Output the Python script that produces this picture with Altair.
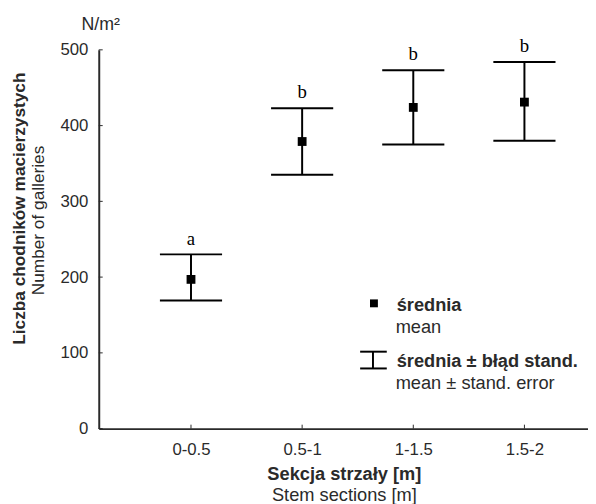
import json
import altair as alt
import pandas as pd

categories = ["0-0.5", "0.5-1", "1-1.5", "1.5-2"]
means = [197, 379, 424, 431]
upper = [230, 423, 473, 484]
lower = [169, 335, 375, 380]
letters = ["a", "b", "b", "b"]
y_ticks = [0, 100, 200, 300, 400, 500]

df = pd.DataFrame({
    "pos": list(range(1, len(categories) + 1)),
    "cat": categories,
    "mean": means,
    "hi": upper,
    "lo": lower,
    "letter": letters,
})
ticks_df = pd.DataFrame({"v": y_ticks})
one = pd.DataFrame({"k": [0]})

W, H = 496, 384
INK = "#2a2a2a"
FONT = "Liberation Sans"

x_scale = alt.Scale(domain=[0.17, 4.572], nice=False, zero=False)
y_scale = alt.Scale(domain=[0, 500], nice=False, zero=True)
label_expr = json.dumps(categories) + "[datum.value - 1]"

x_axis = alt.Axis(values=list(range(1, len(categories) + 1)), labelExpr=label_expr,
                  title=None, ticks=False, grid=False, domainColor=INK, domainWidth=2,
                  labelFont=FONT, labelFontSize=17, labelColor=INK, labelPadding=13)
y_axis = alt.Axis(values=y_ticks, title=None, ticks=False, grid=False, domainColor=INK,
                  domainWidth=2, labelFont=FONT, labelFontSize=17, labelColor=INK,
                  labelPadding=11)

X = alt.X("pos:Q", scale=x_scale, axis=x_axis)

base = alt.Chart(df)

stem = base.mark_rule(color="black", strokeWidth=2).encode(
    x=X, y=alt.Y("lo:Q", scale=y_scale, axis=y_axis), y2="hi:Q")
cap_hi = base.mark_tick(orient="horizontal", size=63, thickness=2, color="black", opacity=1).encode(
    x=X, y=alt.Y("hi:Q", scale=y_scale, axis=y_axis))
cap_lo = base.mark_tick(orient="horizontal", size=63, thickness=2, color="black", opacity=1).encode(
    x=X, y=alt.Y("lo:Q", scale=y_scale, axis=y_axis))
sq = base.mark_square(size=80, color="black", opacity=1).encode(
    x=X, y=alt.Y("mean:Q", scale=y_scale, axis=y_axis))
let = base.mark_text(dy=-16, font="Liberation Serif", fontSize=19, color="black").encode(
    x=X, y=alt.Y("hi:Q", scale=y_scale, axis=y_axis), text="letter:N")

yt = alt.Chart(ticks_df).mark_rule(color=INK, strokeWidth=1).encode(
    y=alt.Y("v:Q", scale=y_scale, axis=y_axis), x=alt.value(0), x2=alt.value(4))
xt = base.mark_rule(color=INK, strokeWidth=1).encode(
    x=X, y=alt.value(H), y2=alt.value(H - 4))


def txt(s, x, y, size=16, bold=False, align="left", angle=0):
    kw = dict(text=s, align=align, baseline="middle", fontSize=size, font=FONT, color=INK)
    if bold:
        kw["fontWeight"] = "bold"
    if angle:
        kw["angle"] = angle
    return alt.Chart(one).mark_text(**kw).encode(x=alt.value(x), y=alt.value(y))


texts = [
    txt("N/m²", 2, -25, 18, align="center"),
    txt("Liczba chodników macierzystych", -80, 161, 17.5, bold=True, align="center", angle=270),
    txt("Number of galleries", -61, 173, 17.5, align="center", angle=270),
    txt("Sekcja strzały [m]", 249, 430, 18.5, bold=True, align="center"),
    txt("Stem sections [m]", 249, 451, 18.5, align="center"),
    txt("średnia", 302, 259, 18.5, bold=True),
    txt("mean", 301, 281, 18.5),
    txt("średnia ± błąd stand.", 302, 316, 18.5, bold=True),
    txt("mean ± stand. error", 301, 338, 18.5),
]

leg_sq = alt.Chart(one).mark_square(size=64, color="black", opacity=1).encode(
    x=alt.value(279), y=alt.value(257))
leg_stem = alt.Chart(one).mark_rule(color="black", strokeWidth=2).encode(
    x=alt.value(278), y=alt.value(306), y2=alt.value(323))
leg_top = alt.Chart(one).mark_rule(color="black", strokeWidth=2).encode(
    x=alt.value(265), x2=alt.value(292), y=alt.value(306))
leg_bot = alt.Chart(one).mark_rule(color="black", strokeWidth=2).encode(
    x=alt.value(265), x2=alt.value(292), y=alt.value(323))

chart = alt.layer(
    yt, xt, stem, cap_hi, cap_lo, sq, let, leg_sq, leg_stem, leg_top, leg_bot, *texts
).properties(
    width=W, height=H,
    autosize=alt.AutoSizeParams(type="none"),
    padding={"left": 92, "top": 39, "right": 0, "bottom": 73},
    background="white",
).configure_view(stroke=None)

chart.save("out.html", embed_options={"renderer": "svg", "actions": False})
